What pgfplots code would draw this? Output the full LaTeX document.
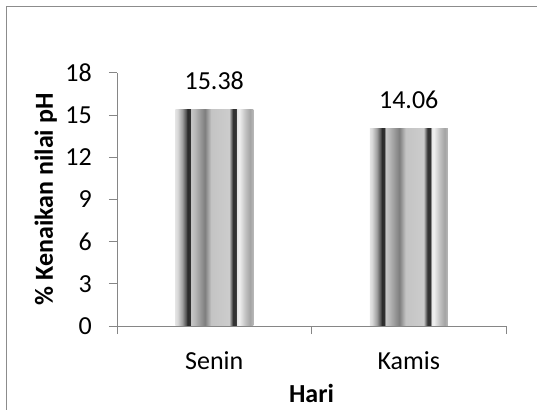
\documentclass[border=0pt]{standalone}
\usepackage{pgfplots}
\pgfplotsset{compat=1.18}
\usepackage{fontspec}
\setmainfont{Carlito}
\definecolor{axisgray}{HTML}{868686}
\definecolor{framegray}{HTML}{8C8C8C}
\pgfdeclarehorizontalshading{metalbar}{100bp}{%
rgb(0bp)=(0.894,0.894,0.894);
rgb(25bp)=(0.894,0.894,0.894);
rgb(26.5bp)=(0.847,0.847,0.847);
rgb(29.5bp)=(0.627,0.627,0.627);
rgb(32bp)=(0.314,0.314,0.314);
rgb(32.75bp)=(0.165,0.165,0.165);
rgb(34.5bp)=(0.188,0.188,0.188);
rgb(35bp)=(0.784,0.784,0.784);
rgb(37.5bp)=(0.722,0.722,0.722);
rgb(44bp)=(0.494,0.494,0.494);
rgb(48bp)=(0.769,0.769,0.769);
rgb(59.5bp)=(0.8,0.8,0.8);
rgb(61bp)=(0.439,0.439,0.439);
rgb(62bp)=(0.2,0.2,0.2);
rgb(64bp)=(0.2,0.2,0.2);
rgb(64.5bp)=(0.902,0.902,0.902);
rgb(66bp)=(0.941,0.941,0.941);
rgb(70bp)=(0.753,0.753,0.753);
rgb(73bp)=(0.643,0.643,0.643);
rgb(75bp)=(0.722,0.722,0.722);
rgb(100bp)=(0.722,0.722,0.722)}
\begin{document}
\begin{tikzpicture}[font=\fontsize{26bp}{31bp}\selectfont]
\useasboundingbox (0,0) rectangle (537bp,410bp);
\draw[framegray, line width=1bp] (6bp,0bp) -- (6bp,403bp) -- (540bp,403bp);
\begin{axis}[
  at={(117bp,84bp)}, anchor=south west,
  scale only axis,
  width=389bp, height=253bp,
  xmin=-0.5, xmax=1.5,
  ymin=0, ymax=18,
  ytick={0,3,6,9,12,15,18},
  xtick={0,1},
  xticklabels={Senin,Kamis},
  minor xtick={-0.5,0.5,1.5},
  major x tick style={draw=none},
  minor tick length=8bp,
  major tick length=8bp,
  tick align=outside,
  axis x line*=bottom,
  axis y line*=left,
  axis line style={axisgray, line width=1bp, -},
  every tick/.style={axisgray, line width=1bp},
  /pgf/number format/assume math mode=true,
  tick label style={font=\fontsize{26bp}{31bp}\selectfont, inner sep=0pt},
  yticklabel style={anchor=east, xshift=-17bp},
  xticklabel style={anchor=base, yshift=-35bp},
  xlabel={\textbf{Hari}},
  ylabel={\textbf{\% Kenaikan nilai pH}},
  xlabel style={at={(axis description cs:0.5,0)}, anchor=base, yshift=-76bp, inner sep=0pt, font=\fontsize{26bp}{31bp}\selectfont},
  ylabel style={at={(axis description cs:-0.165,0.5)}, anchor=base, inner sep=0pt, font=\fontsize{26bp}{31bp}\selectfont},
  nodes near coords style={font=\fontsize{26bp}{31bp}\selectfont, inner sep=0pt, anchor=base, yshift=20bp,
    /pgf/number format/.cd, fixed, fixed zerofill, precision=2, assume math mode=true},
  clip=false,
]
\addplot[ybar, bar width=78bp, bar shift=0pt, draw=none, shade, shading=metalbar, nodes near coords] coordinates {(0,15.38)};
\addplot[ybar, bar width=78bp, bar shift=0pt, draw=none, shade, shading=metalbar, nodes near coords] coordinates {(1,14.06)};
\end{axis}
\end{tikzpicture}
\end{document}
